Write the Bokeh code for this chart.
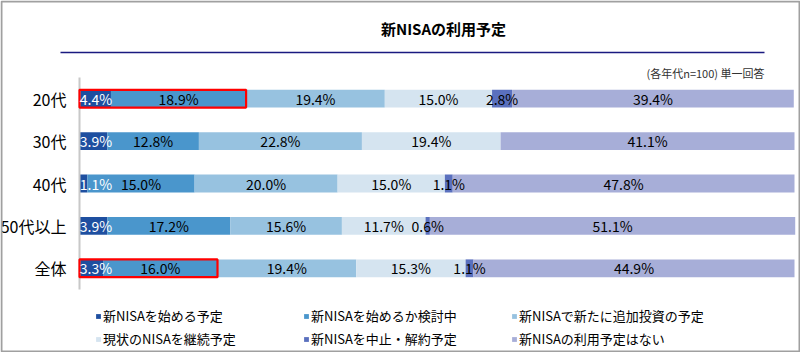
from bokeh.plotting import figure
from bokeh.models import ColumnDataSource, Legend, LegendItem, Range1d
from bokeh.core.properties import value
from bokeh.embed import file_html
from bokeh.resources import INLINE

FONT = "Noto Sans CJK JP"

categories = ["20代", "30代", "40代", "50代以上", "全体"]
series_names = ["新NISAを始める予定", "新NISAを始めるか検討中", "新NISAで新たに追加投資の予定",
                "現状のNISAを継続予定", "新NISAを中止・解約予定", "新NISAの利用予定はない"]
s1 = [4.4, 3.9, 1.1, 3.9, 3.3]
s2 = [18.9, 12.8, 15.0, 17.2, 16.0]
s3 = [19.4, 22.8, 20.0, 15.6, 19.4]
s4 = [15.0, 19.4, 15.0, 11.7, 15.3]
s5 = [2.8, 0.0, 1.1, 0.6, 1.1]
s6 = [39.4, 41.1, 47.8, 51.1, 44.9]
highlighted = ["20代", "全体"]
title_text = "新NISAの利用予定"
note_text = "(各年代n=100) 単一回答"

series = [s1, s2, s3, s4, s5, s6]
colors = ["#1E4FA0", "#4A96CC", "#97C2E0", "#D5E4F0", "#5A70BE", "#A7AED8"]
label_colors = ["white", "black", "black", "black", "black", "black"]

W, H = 800, 352
PLOT_L, PLOT_R = 79, 794          # pixel span of 0..100 %
ROW_TOP, ROW_STEP = 98.2, 42.4    # pixel centre of first row, row pitch
px_per = (PLOT_R - PLOT_L) / 100.0

x_range = Range1d(-PLOT_L / px_per, (W - PLOT_L) / px_per)
y_range = Range1d((H - ROW_TOP) / ROW_STEP, -ROW_TOP / ROW_STEP)

p = figure(width=W, height=H, output_backend="svg", toolbar_location=None,
           x_range=x_range, y_range=y_range,
           min_border_left=0, min_border_right=0, min_border_top=0, min_border_bottom=0,
           x_axis_location=None, y_axis_location=None)
p.extra_x_ranges = {"px": Range1d(0, W)}
p.extra_y_ranges = {"py": Range1d(H, 0)}
p.xgrid.visible = False
p.ygrid.visible = False
p.outline_line_color = None

ypos = list(range(len(categories)))

BAR_H = 0.42
left = [0.0] * len(categories)
renderers = []
lab_x, lab_y, lab_t, lab_c = [], [], [], []
for k, vals in enumerate(series):
    right = [l + v for l, v in zip(left, vals)]
    src = ColumnDataSource(dict(y=ypos, left=left, right=right))
    r = p.hbar(y="y", left="left", right="right", height=BAR_H, source=src,
               fill_color=colors[k], line_color=None)
    renderers.append(r)
    for i, (l, v) in enumerate(zip(left, vals)):
        if v > 0:
            mid = l + v / 2
            if k == 0:
                mid = max(mid, 2.3)
            lab_x.append(mid)
            lab_y.append(i)
            lab_t.append(f"{v:.1f}%")
            lab_c.append(label_colors[k])
    left = right

# category axis: line + labels
p.segment(x0=[0], y0=[-0.5], x1=[0], y1=[len(categories) - 0.5],
          line_color="#C8C8C8", line_width=2)
csrc = ColumnDataSource(dict(x=[0] * len(categories), y=ypos, text=categories))
p.text(x="x", y="y", text="text", source=csrc, x_offset=-13,
       text_align="right", text_baseline="middle", text_color="#000000",
       text_font=value(FONT), text_font_size="16px")

# highlight boxes
hl_idx = [categories.index(c) for c in highlighted]
hsrc = ColumnDataSource(dict(y=hl_idx, left=[0] * len(hl_idx),
                             right=[s1[i] + s2[i] for i in hl_idx]))
p.hbar(y="y", left="left", right="right", height=BAR_H, source=hsrc,
       fill_color=None, line_color="#FF0000", line_width=2.2)

tsrc = ColumnDataSource(dict(x=lab_x, y=lab_y, text=lab_t, color=lab_c))
p.text(x="x", y="y", text="text", source=tsrc, text_color="color",
       text_align="center", text_baseline="middle",
       text_font=value(FONT), text_font_size="14px")

# title, rule, note, outer frame (pixel ranges)
p.text(x=[443], y=[28], text=[title_text], x_range_name="px", y_range_name="py",
       text_align="center", text_baseline="middle", text_color="#000000",
       text_font=value(FONT), text_font_size="15px", text_font_style="bold")
p.segment(x0=[60], y0=[52], x1=[764], y1=[52], x_range_name="px", y_range_name="py",
          line_color="#1A1A80", line_width=1.6)
p.text(x=[764], y=[72], text=[note_text], x_range_name="px", y_range_name="py",
       text_align="right", text_baseline="middle", text_color="#333333",
       text_font=value(FONT), text_font_size="11px")
p.quad(left=[1], right=[799], top=[1], bottom=[351], x_range_name="px", y_range_name="py",
       fill_color=None, line_color="#A0A0A0", line_width=2)

legend = Legend(items=[LegendItem(label=n, renderers=[r]) for n, r in zip(series_names, renderers)],
                location=(95, 4), orientation="horizontal", ncols=3,
                glyph_width=6, glyph_height=6, label_standoff=2, label_width=196,
                label_height=18, spacing=4, padding=0, margin=0,
                border_line_color=None, background_fill_alpha=0,
                label_text_font=FONT, label_text_font_size="13px", label_text_color="#000000")
p.add_layout(legend, "center")

open("out.html", "w").write(file_html(p, INLINE))
